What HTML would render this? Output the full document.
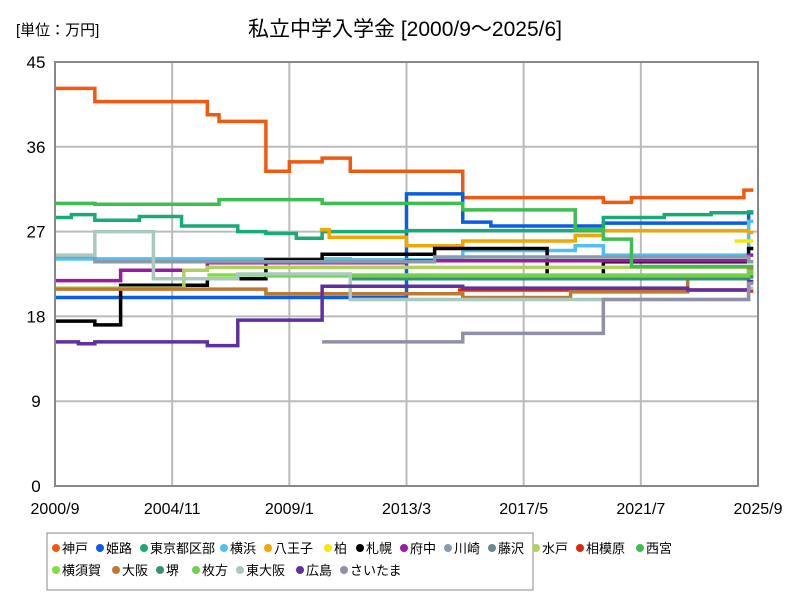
<!DOCTYPE html>
<html><head><meta charset="utf-8">
<style>
body{margin:0;background:#fff;font-family:"Liberation Sans","Noto Sans CJK JP",sans-serif;}
#wrap{position:relative;width:800px;height:600px;overflow:hidden;}
</style></head>
<body>
<div id="wrap">
<svg id="chart" width="800" height="600" xmlns="http://www.w3.org/2000/svg">
<text x="16" y="35" font-size="15">[単位：万円]</text>
<text x="405" y="36" font-size="21" text-anchor="middle">私立中学入学金 [2000/9～2025/6]</text>
<g id="grid"></g>
<g id="series"></g>
<rect x="55" y="62" width="703" height="424" fill="none" stroke="#888" stroke-width="2"/>
<g id="axes"></g>
<rect x="47" y="533" width="486" height="57" fill="#fff" stroke="#888" stroke-width="1"/>
<g id="legend"></g>
</svg>
</div>
<script>
// months since 2000/9
const yTicks = [0, 9, 18, 27, 36, 45];
const xTickLabels = ["2000/9","2004/11","2009/1","2013/3","2017/5","2021/7","2025/9"];
const xTickMonths = [0, 50, 100, 150, 200, 250, 300];
const seriesNames = ["神戸","姫路","東京都区部","横浜","八王子","柏","札幌","府中","川崎","藤沢","水戸","相模原","西宮","横須賀","大阪","堺","枚方","東大阪","広島","さいたま"];
const seriesColors = ["#f05a10","#0a5fe0","#1aaa78","#50c0f0","#f0a800","#f8e800","#000000","#9a1aa0","#8a9aaa","#6a8a8a","#b0d060","#d82a10","#3cbe50","#80e040","#c07830","#3a9070","#70d050","#a8c8c0","#6030a0","#9090a8"];
// change-point months and values per series (last month = end)
const kobeT = [0,17,65,70,90,100,114,126,174,234,246,294,298];
const kobeV = [42.2,40.8,39.4,38.7,33.4,34.4,34.8,33.4,30.6,30.1,30.6,31.4,31.4];
const himejiT = [0,150,174,186,234,296,298];
const himejiV = [20.0,31.0,28.0,27.6,27.9,29.0,29.0];
const tokyoT = [0,7,17,36,54,78,90,103,114,150,234,260,280,296,298];
const tokyoV = [28.5,28.8,28.2,28.6,27.6,27.0,26.8,26.3,27.0,27.1,28.5,28.8,29.0,29.1,29.1];
const yokohamaT = [0,126,174,222,234,296,298];
const yokohamaV = [24.1,24.0,25.0,25.5,24.5,28.1,28.1];
const hachiojiT = [113,117,150,174,222,234,296,298];
const hachiojiV = [27.2,26.4,25.5,26.0,26.6,27.1,26.9,26.9];
const kashiwaT = [290,298];
const kashiwaV = [26.0,26.0];
const sapporoT = [0,17,28,65,90,114,162,210,234,296,298];
const sapporoV = [17.5,17.1,21.3,22.0,24.0,24.6,25.2,22.2,23.8,25.2,25.2];
const fuchuT = [0,28,65,150,296,298];
const fuchuV = [21.8,22.9,23.7,23.9,24.5,24.5];
const kawasakiT = [0,17,162,296,298];
const kawasakiV = [24.4,23.8,24.3,23.8,23.8];
const fujisawaT = [126,296,298];
const fujisawaV = [22.3,22.6,22.6];
const mitoT = [0,55,65,296,298];
const mitoV = [21.0,22.9,23.2,23.2,23.2];
const sagamiharaT = [172,296,298];
const sagamiharaV = [20.8,20.7,20.7];
const nishinomiyaT = [0,17,70,114,174,222,234,246,296,298];
const nishinomiyaV = [30.0,29.9,30.4,30.0,29.3,27.2,26.2,23.3,23.3,23.3];
const yokosukaT = [65,296,298];
const yokosukaV = [22.4,22.4,22.4];
const osakaT = [0,90,174,220,270,296,298];
const osakaV = [20.9,20.4,20.0,20.6,22.2,23.0,23.0];
const sakaiT = [126,296,298];
const sakaiV = [22.0,22.2,22.2];
const hirakataT = [90,296,298];
const hirakataV = [22.3,22.8,22.8];
const higashiosakaT = [0,17,42,78,126,296,298];
const higashiosakaV = [24.5,27.0,22.0,22.5,19.8,21.0,21.0];
const hiroshimaT = [0,10,17,65,78,114,120,174,270,296,298];
const hiroshimaV = [15.3,15.1,15.3,14.9,17.6,21.2,21.2,21.0,20.8,21.7,21.7];
const saitamaT = [114,174,234,296,298];
const saitamaV = [15.3,16.2,19.8,21.5,21.5];
const allT = [kobeT,himejiT,tokyoT,yokohamaT,hachiojiT,kashiwaT,sapporoT,fuchuT,kawasakiT,fujisawaT,mitoT,sagamiharaT,nishinomiyaT,yokosukaT,osakaT,sakaiT,hirakataT,higashiosakaT,hiroshimaT,saitamaT];
const allV = [kobeV,himejiV,tokyoV,yokohamaV,hachiojiV,kashiwaV,sapporoV,fuchuV,kawasakiV,fujisawaV,mitoV,sagamiharaV,nishinomiyaV,yokosukaV,osakaV,sakaiV,hirakataV,higashiosakaV,hiroshimaV,saitamaV];

const NS="http://www.w3.org/2000/svg";
const X0=55,X1=758,Y0=486,Y1=62;
const xs=m=>X0+m*(X1-X0)/300;
const ys=v=>Y0-v*(Y0-Y1)/45;
function mk(tag,attrs,parent){const e=document.createElementNS(NS,tag);for(const k in attrs)e.setAttribute(k,attrs[k]);parent.appendChild(e);return e;}
const grid=document.getElementById('grid'),axes=document.getElementById('axes'),ser=document.getElementById('series'),leg=document.getElementById('legend');
yTicks.forEach(v=>{
  const l=mk('line',{x1:X0,x2:X1,y1:ys(v),y2:ys(v),stroke:'#bbb','stroke-width':2},grid);
  
  
  const t=mk('text',{x:36,y:ys(v)+6,'font-size':17,'text-anchor':'middle'},axes);
  t.textContent=v;
  
  
});
xTickMonths.forEach((m,i)=>{
  const l=mk('line',{x1:xs(m),x2:xs(m),y1:Y1,y2:Y0,stroke:'#bbb','stroke-width':2},grid);
  
  
  const t=mk('text',{x:xs(m),y:514,'font-size':16,'text-anchor':'middle'},axes);
  t.textContent=xTickLabels[i];
  
  
});
allT.forEach((T,i)=>{
  const V=allV[i];
  let d='M'+xs(T[0])+','+ys(V[0]);
  for(let k=1;k<T.length;k++){d+=' H'+xs(T[k])+' V'+ys(V[k]);}
  const p=mk('path',{d:d,fill:'none',stroke:seriesColors[i],'stroke-width':3.5},ser);
  
  
});
seriesNames.forEach((n,i)=>{
  const row=i<13?0:1, col=row?i-13:i;
  const widths=[44,44,80,44,60,32,44,44,44,44,44,60,44, 60,44,36,44,60,44,64];
  let x=52;
  for(let k=(row?13:0);k<i;k++)x+=widths[k];
  const y=row?575:553;
  const c=mk('circle',{cx:x+4,cy:y-5,r:4,fill:seriesColors[i]},leg);
  
  
  const t=mk('text',{x:x+10,y:y,'font-size':13},leg);
  t.textContent=n;
  
  
});
</script>
</body></html>
